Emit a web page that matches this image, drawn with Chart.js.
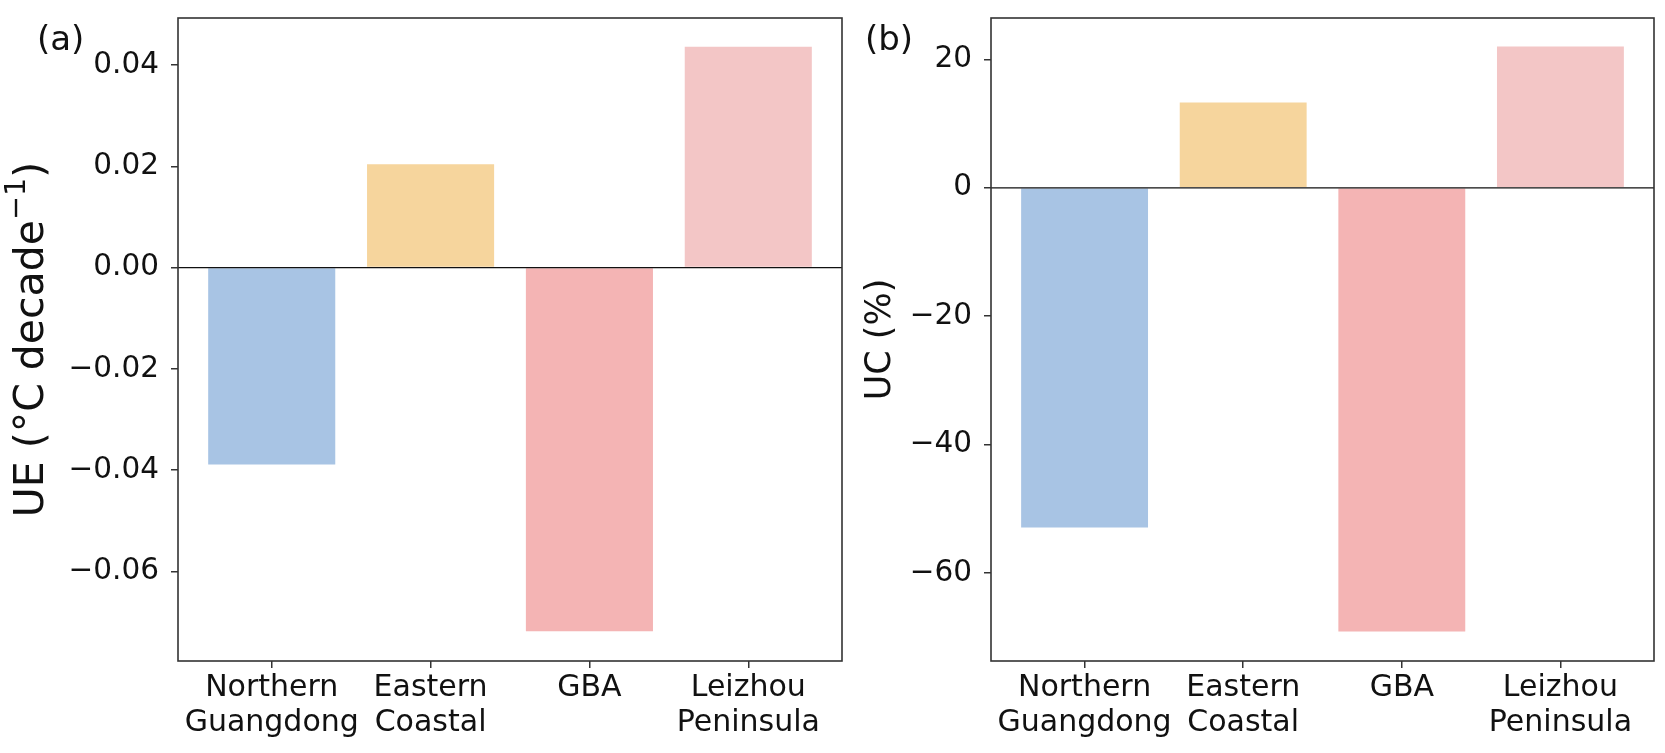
<!DOCTYPE html>
<html>
<head>
<meta charset="utf-8">
<script src="https://cdn.jsdelivr.net/npm/chart.js@4.4.1/dist/chart.umd.min.js"></script>
<style>
  html, body { margin: 0; padding: 0; background: #fff; }
  #wrap { position: relative; width: 1665px; height: 753px; }
  .panel { position: absolute; top: 0; height: 753px; }
</style>
</head>
<body>
<div id="wrap">
  <div class="panel" style="left:0;width:860px"><canvas id="chartA"></canvas></div>
  <div class="panel" style="left:860px;width:805px"><canvas id="chartB"></canvas></div>
</div>
<script>
// regions along the x axis
const regions = [['Northern', 'Guangdong'], ['Eastern', 'Coastal'], 'GBA', ['Leizhou', 'Peninsula']];
const barColors = ['#a8c4e4', '#f6d59d', '#f4b4b4', '#f3c6c6'];

// (a) urbanization effect, °C per decade
const ueValues = [-0.0389, 0.0204, -0.0718, 0.0436];
const ueTicks = [-0.06, -0.04, -0.02, 0.00, 0.02, 0.04];
const ueRange = [-0.0777, 0.0493];

// (b) urbanization contribution, %
const ucValues = [-52.9, 13.3, -69.1, 22.0];
const ucTicks = [-60, -40, -20, 0, 20];
const ucRange = [-73.7, 26.45];

const FONT = 'DejaVu Sans';

// frame around the plot, zero line, panel letter and (optionally) a y label with superscript
const framePlugin = {
  id: 'frame',
  afterDatasetsDraw(chart, args, opts) {
    const {ctx, chartArea: a, scales} = chart;
    const y0 = scales.y.getPixelForValue(0);
    ctx.save();
    ctx.strokeStyle = '#111';
    ctx.lineWidth = 1.3;
    ctx.beginPath();
    ctx.moveTo(a.left, y0);
    ctx.lineTo(a.right, y0);
    ctx.stroke();
    ctx.strokeStyle = '#333';
    ctx.lineWidth = 1.6;
    ctx.strokeRect(a.left, a.top, a.right - a.left, a.bottom - a.top);
    ctx.fillStyle = '#111';
    ctx.font = '34px "' + FONT + '"';
    ctx.textAlign = 'left';
    ctx.textBaseline = 'alphabetic';
    ctx.fillText(opts.letter, opts.x, opts.y);

    if (opts.label) {
      // label drawn rotated, with a real superscript
      const size = opts.label.size;
      const supSize = size * 0.7;
      const main = opts.label.main, sup = opts.label.sup, tail = opts.label.tail;
      ctx.font = size + 'px "' + FONT + '"';
      const w1 = ctx.measureText(main).width;
      const w3 = ctx.measureText(tail).width;
      ctx.font = supSize + 'px "' + FONT + '"';
      const w2 = ctx.measureText(sup).width;
      const total = w1 + w2 + w3;
      ctx.translate(opts.label.x, (a.top + a.bottom) / 2);
      ctx.rotate(-Math.PI / 2);
      let x = -total / 2;
      ctx.font = size + 'px "' + FONT + '"';
      ctx.fillText(main, x, 0);
      x += w1;
      ctx.font = supSize + 'px "' + FONT + '"';
      ctx.fillText(sup, x, -opts.label.raise);
      x += w2;
      ctx.font = size + 'px "' + FONT + '"';
      ctx.fillText(tail, x, 0);
    }
    ctx.restore();
  }
};

function makeChart(id, values, range, ticks, decimals, yTitle, label, yWidth, padRight, letter, letterX) {
  const ctx = document.getElementById(id).getContext('2d');
  return new Chart(ctx, {
    type: 'bar',
    data: {
      datasets: [{
        data: values.map((v, i) => ({x: i, y: v})),
        backgroundColor: barColors,
        borderWidth: 0,
        categoryPercentage: 1.0,
        barPercentage: 0.8
      }]
    },
    plugins: [framePlugin],
    options: {
      responsive: true,
      maintainAspectRatio: false,
      animation: false,
      layout: {padding: {top: 18, right: padRight, left: 0, bottom: 0}},
      plugins: {
        legend: {display: false},
        tooltip: {enabled: false},
        frame: {letter: letter, x: letterX, y: 49.5, label: label}
      },
      scales: {
        x: {
          type: 'linear',
          min: -0.59,
          max: 3.59,
          offset: false,
          afterBuildTicks: s => { s.ticks = regions.map((r, i) => ({value: i})); },
          afterFit: s => { s.height = 92; s.paddingLeft = 0; s.paddingRight = 0; },
          border: {display: false},
          grid: {offset: false, drawOnChartArea: false, drawTicks: true, tickLength: 7, tickColor: '#333', lineWidth: 1.5},
          ticks: {
            padding: 3,
            maxRotation: 0,
            autoSkip: false,
            color: '#111',
            font: {family: FONT, size: 30, lineHeight: 1.17},
            callback: v => regions[v]
          }
        },
        y: {
          min: range[0],
          max: range[1],
          afterBuildTicks: s => { s.ticks = ticks.map(t => ({value: t})); },
          afterFit: s => { s.width = yWidth; s.paddingTop = 0; s.paddingBottom = 0; },
          border: {display: false},
          grid: {drawOnChartArea: false, drawTicks: true, tickLength: 7, tickColor: '#333', lineWidth: 1.5},
          ticks: {
            padding: 12,
            color: '#111',
            font: {family: FONT, size: 29.5},
            callback: v => (v < 0 ? '\u2212' : '') + Math.abs(v).toFixed(decimals)
          },
          title: yTitle
        }
      }
    }
  });
}

makeChart('chartA', ueValues, ueRange, ueTicks, 2, {display: false},
  {main: 'UE (\u00B0C decade', sup: '\u22121', tail: ')', size: 41, raise: 18, x: 43.3},
  178, 18, '(a)', 37);
makeChart('chartB', ucValues, ucRange, ucTicks, 0,
  {display: true, text: 'UC (%)', color: '#111', padding: {top: 0, bottom: 0},
   font: {family: FONT, size: 35, lineHeight: 1.2}},
  null, 131, 11, '(b)', 5);
</script>
</body>
</html>
